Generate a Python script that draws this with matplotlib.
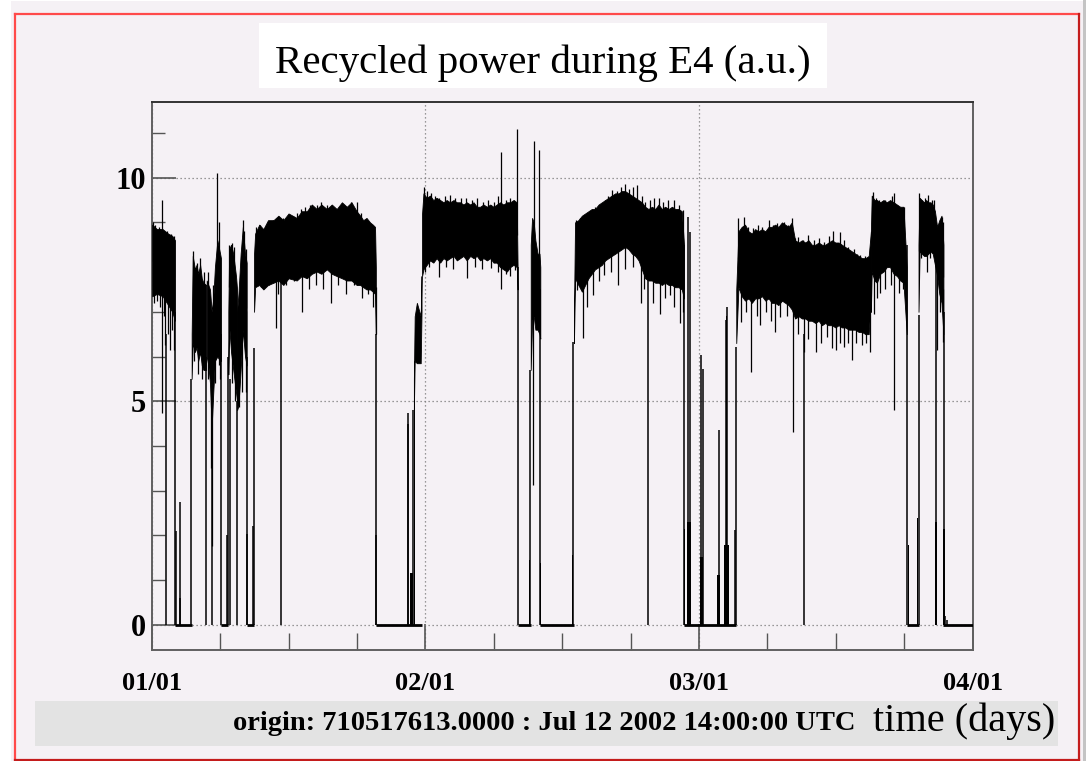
import numpy as np
import matplotlib
matplotlib.use("Agg")
import matplotlib.pyplot as plt
from matplotlib.patches import Rectangle
from matplotlib.lines import Line2D
from matplotlib.ticker import MultipleLocator, FixedLocator

# ---------------------------------------------------------------------------
# Recycled power time series (a.u.), time axis in units of the tick spacing
# ---------------------------------------------------------------------------
tick_pos = [0, 1, 2, 3]
tick_labels = ["01/01", "02/01", "03/01", "04/01"]
y_major = [0, 5, 10]

# Dense, locked stretches: lower/upper envelope of the fast fluctuations
band1_x = [0.002, 0.019, 0.040, 0.060, 0.075, 0.085]
band1_lo = [7.35, 7.40, 7.35, 7.15, 7.00, 6.80]
band1_hi = [8.95, 8.85, 8.85, 8.75, 8.70, 8.60]

band2_x = [0.146, 0.150, 0.158, 0.164, 0.170, 0.177, 0.183, 0.189, 0.199]
band2_lo = [5.5, 6.3, 6.1, 6.2, 5.9, 6.1, 5.8, 5.7, 5.7]
band2_hi = [6.5, 8.25, 7.95, 8.05, 7.85, 8.05, 7.75, 7.65, 7.6]

band3_x = [0.201, 0.207, 0.213, 0.219, 0.225, 0.231, 0.240, 0.250, 0.253]
band3_lo = [6.0, 5.8, 5.4, 4.4, 5.2, 5.9, 6.0, 5.9, 5.9]
band3_hi = [7.7, 7.6, 7.5, 7.0, 7.3, 8.0, 8.6, 8.3, 8.2]

band4_x = [0.280, 0.283, 0.290, 0.298, 0.308, 0.312]
band4_lo = [5.6, 6.7, 6.1, 5.7, 5.2, 5.0]
band4_hi = [7.0, 8.4, 8.5, 8.3, 7.8, 7.5]

band5_x = [0.312, 0.317, 0.325, 0.333, 0.341, 0.347]
band5_lo = [4.8, 4.9, 5.7, 6.6, 6.0, 5.8]
band5_hi = [7.0, 7.4, 8.3, 8.9, 8.3, 8.1]

band6_x = [0.374, 0.378, 0.393, 0.408, 0.425, 0.445, 0.463, 0.481, 0.500, 0.530,
           0.548, 0.567, 0.585, 0.603, 0.620, 0.640, 0.658, 0.676, 0.695, 0.713,
           0.730, 0.749, 0.762, 0.773, 0.785, 0.798, 0.808, 0.816, 0.819]
band6_lo = [7.0, 7.55, 7.6, 7.5, 7.6, 7.65, 7.7, 7.6, 7.75, 7.7,
            7.8, 7.75, 7.85, 7.9, 7.85, 7.95, 7.85, 7.8, 7.75, 7.7,
            7.7, 7.6, 7.6, 7.55, 7.5, 7.5, 7.45, 7.4, 6.5]
band6_hi = [8.3, 8.75, 8.95, 8.85, 9.05, 9.05, 9.15, 9.05, 9.2, 9.1,
            9.25, 9.25, 9.4, 9.3, 9.4, 9.3, 9.4, 9.3, 9.45, 9.35,
            9.45, 9.25, 9.15, 9.05, 9.1, 9.0, 8.95, 8.9, 8.0]

band7_x = [0.958, 0.961, 0.969, 0.983, 0.986]
band7_lo = [4.8, 5.9, 5.85, 5.85, 7.0]
band7_hi = [5.5, 6.9, 7.2, 6.9, 7.8]

band8_x = [0.988, 0.993, 1.005, 1.017, 1.029, 1.041, 1.054, 1.066, 1.078, 1.090,
           1.103, 1.115, 1.127, 1.139, 1.151, 1.164, 1.176, 1.188, 1.200, 1.212,
           1.225, 1.237, 1.249, 1.261, 1.273, 1.285, 1.298, 1.310, 1.322, 1.334, 1.337]
band8_lo = [7.8, 7.95, 8.05, 8.15, 8.1, 8.2, 8.1, 8.2, 8.15, 8.2,
            8.25, 8.15, 8.2, 8.25, 8.15, 8.25, 8.2, 8.25, 8.15, 8.2,
            8.15, 8.2, 8.1, 8.1, 8.0, 7.95, 7.9, 8.0, 8.05, 8.0, 7.5]
band8_hi = [9.2, 9.65, 9.55, 9.6, 9.5, 9.55, 9.5, 9.45, 9.5, 9.45,
            9.5, 9.45, 9.45, 9.4, 9.45, 9.4, 9.45, 9.35, 9.35, 9.4,
            9.35, 9.4, 9.35, 9.4, 9.45, 9.4, 9.45, 9.45, 9.5, 9.45, 8.0]

band9_x = [1.385, 1.390, 1.396, 1.402, 1.410, 1.417, 1.420]
band9_lo = [5.7, 6.8, 6.9, 6.6, 6.6, 6.5, 6.4]
band9_hi = [8.5, 9.1, 9.0, 8.6, 8.3, 8.3, 8.0]

band10_x = [1.543, 1.547, 1.559, 1.572, 1.584, 1.596, 1.608, 1.620, 1.633, 1.645,
            1.657, 1.669, 1.681, 1.694, 1.706, 1.718, 1.730, 1.742, 1.755, 1.767,
            1.779, 1.791, 1.803, 1.815, 1.828, 1.840, 1.852, 1.864, 1.876, 1.889,
            1.901, 1.913, 1.925, 1.937, 1.945]
band10_lo = [6.3, 7.75, 7.6, 7.45, 7.6, 7.75, 7.85, 7.95, 8.0, 8.05,
             8.15, 8.2, 8.25, 8.3, 8.35, 8.4, 8.45, 8.4, 8.3, 8.25,
             8.15, 7.95, 7.75, 7.7, 7.7, 7.65, 7.65, 7.6, 7.65, 7.6,
             7.6, 7.55, 7.55, 7.5, 7.3]
band10_hi = [7.0, 9.0, 9.05, 9.15, 9.2, 9.25, 9.3, 9.3, 9.4, 9.45,
             9.5, 9.55, 9.6, 9.65, 9.65, 9.7, 9.7, 9.65, 9.6, 9.55,
             9.5, 9.45, 9.35, 9.3, 9.35, 9.3, 9.4, 9.3, 9.35, 9.3,
             9.35, 9.3, 9.3, 9.25, 8.5]

band11_x = [2.136, 2.144, 2.156, 2.168, 2.181, 2.193, 2.205, 2.217, 2.230, 2.242,
            2.254, 2.266, 2.278, 2.290, 2.303, 2.315, 2.327, 2.339, 2.351, 2.364,
            2.376, 2.388, 2.400, 2.412, 2.425, 2.437, 2.449, 2.461, 2.473, 2.486,
            2.498, 2.510, 2.522, 2.534, 2.547, 2.559, 2.571, 2.583, 2.595, 2.608,
            2.620, 2.628]
band11_lo = [6.3, 7.55, 7.35, 7.25, 7.3, 7.2, 7.3, 7.3, 7.35, 7.25,
             7.3, 7.2, 7.2, 7.15, 7.25, 7.2, 7.15, 7.05, 6.85, 6.9,
             6.85, 6.85, 6.8, 6.8, 6.75, 6.8, 6.7, 6.75, 6.7, 6.7,
             6.65, 6.7, 6.65, 6.65, 6.6, 6.6, 6.6, 6.55, 6.55, 6.5,
             6.5, 7.3]
band11_hi = [7.5, 8.8, 8.9, 8.95, 8.8, 8.75, 8.85, 8.8, 8.85, 8.8,
             8.9, 8.9, 8.95, 8.9, 9.0, 8.95, 8.9, 9.0, 8.6, 8.55,
             8.6, 8.55, 8.6, 8.5, 8.5, 8.55, 8.5, 8.5, 8.55, 8.6,
             8.55, 8.55, 8.5, 8.45, 8.4, 8.35, 8.3, 8.25, 8.2, 8.2,
             8.25, 8.8]

band12_x = [2.628, 2.631, 2.641, 2.650, 2.662, 2.674, 2.686, 2.698, 2.711, 2.723,
            2.735, 2.747, 2.759]
band12_lo = [7.0, 7.9, 7.7, 7.65, 7.85, 7.9, 8.0, 8.0, 7.85, 7.8, 7.7, 7.65, 6.5]
band12_hi = [8.8, 9.6, 9.5, 9.5, 9.45, 9.5, 9.45, 9.5, 9.45, 9.4, 9.35, 9.35, 8.0]

band13_x = [2.802, 2.806, 2.814, 2.822, 2.830, 2.838, 2.846, 2.854, 2.862, 2.870,
            2.878, 2.886, 2.893]
band13_lo = [7.0, 8.35, 8.3, 8.25, 8.25, 8.3, 8.35, 8.3, 8.05, 7.8, 7.4, 7.2, 6.5]
band13_hi = [8.5, 9.55, 9.5, 9.45, 9.5, 9.45, 9.45, 9.4, 9.25, 8.9, 9.05, 9.15, 8.5]

# Upward excursions above the dense band (position, peak value)
tip_up_x = [0.005, 0.012, 0.025, 0.032, 0.039, 0.055, 0.070, 0.080,
            0.150, 0.165, 0.175, 0.190, 0.205, 0.225, 0.238, 0.245,
            0.283, 0.292, 0.300, 0.335, 0.338, 0.343,
            0.380, 0.395, 0.408, 0.425, 0.445, 0.465, 0.481, 0.500, 0.515, 0.530,
            0.545, 0.560, 0.580, 0.603, 0.620, 0.640, 0.660, 0.676, 0.695, 0.713,
            0.730, 0.749, 0.765, 0.785, 0.800, 0.814,
            0.995, 1.005, 1.020, 1.035, 1.050, 1.070, 1.090, 1.110, 1.130, 1.150,
            1.170, 1.190, 1.210, 1.230, 1.250, 1.266, 1.277, 1.295, 1.310, 1.325, 1.334,
            1.396, 1.417,
            1.551, 1.565, 1.580, 1.590, 1.605, 1.620, 1.639, 1.655, 1.669, 1.681,
            1.700, 1.715, 1.731, 1.745, 1.760, 1.775, 1.790, 1.803, 1.820, 1.835,
            1.852, 1.870, 1.885, 1.907, 1.925, 1.941,
            2.144, 2.156, 2.165, 2.180, 2.199, 2.215, 2.230, 2.254, 2.270, 2.284,
            2.300, 2.309, 2.325, 2.339, 2.351, 2.363, 2.380, 2.400, 2.420, 2.440,
            2.455, 2.475, 2.491, 2.516, 2.530, 2.546, 2.565, 2.577, 2.589, 2.605, 2.619,
            2.635, 2.645, 2.656, 2.668, 2.680, 2.692, 2.705, 2.711, 2.723, 2.735, 2.750,
            2.804, 2.815, 2.826, 2.838, 2.850, 2.857, 2.875, 2.887, 2.890]
tip_up_y = [9.0, 8.95, 8.9, 8.85, 9.5, 8.8, 8.75, 8.7,
            8.35, 8.1, 8.2, 7.9, 7.9, 7.6, 10.1, 9.0,
            8.5, 8.55, 8.45, 9.05, 8.8, 8.4,
            8.9, 8.95, 8.85, 9.0, 9.05, 9.1, 9.1, 9.12, 9.15, 9.2,
            9.3, 9.35, 9.4, 9.4, 9.45, 9.4, 9.3, 9.3, 9.35, 9.3,
            9.45, 9.45, 9.2, 9.0, 8.95, 8.85,
            9.8, 9.7, 9.65, 9.6, 9.55, 9.6, 9.62, 9.55, 9.55, 9.55,
            9.5, 9.55, 9.45, 9.5, 9.45, 9.6, 10.57, 9.5, 9.55, 9.5, 11.1,
            10.82, 10.62,
            9.05, 9.1, 9.15, 9.16, 9.25, 9.35, 9.39, 9.5, 9.6, 9.72,
            9.7, 9.8, 9.87, 9.75, 9.8, 9.84, 9.6, 9.46, 9.5, 9.55,
            9.54, 9.45, 9.5, 9.5, 9.4, 9.28,
            9.09, 8.9, 9.13, 8.9, 8.87, 8.95, 8.9, 9.05, 8.95, 8.98,
            8.95, 9.02, 8.95, 9.09, 8.65, 8.68, 8.6, 8.72, 8.6, 8.65,
            8.57, 8.7, 8.8, 8.79, 8.6, 8.46, 8.4, 8.3, 8.27, 8.25, 8.16,
            9.69, 9.55, 9.5, 9.45, 9.5, 9.45, 9.6, 9.65, 9.4, 9.31, 9.35,
            9.65, 9.5, 9.55, 9.61, 9.5, 9.5, 8.95, 9.13, 9.0]

# Downward excursions below the dense band (position, lowest value)
tip_dn_x = [0.010, 0.020, 0.030, 0.039, 0.045, 0.049, 0.060, 0.067, 0.075, 0.083,
            0.155, 0.168, 0.185, 0.205, 0.215, 0.219, 0.230, 0.245, 0.251,
            0.295, 0.305, 0.318, 0.330, 0.345,
            0.385, 0.400, 0.430, 0.453, 0.462, 0.490, 0.520, 0.551, 0.575, 0.600,
            0.625, 0.655, 0.680, 0.710, 0.740, 0.770, 0.790, 0.810, 0.818,
            0.998, 1.015, 1.048, 1.075, 1.100, 1.151, 1.180, 1.206, 1.240, 1.265,
            1.277, 1.295, 1.310, 1.328, 1.394,
            1.553, 1.575, 1.590, 1.614, 1.635, 1.651, 1.680, 1.703, 1.730, 1.760,
            1.787, 1.800, 1.830, 1.858, 1.875, 1.894, 1.910, 1.931, 1.940,
            2.153, 2.170, 2.189, 2.210, 2.223, 2.245, 2.262, 2.276, 2.297, 2.320,
            2.345, 2.360, 2.382, 2.400, 2.427, 2.445, 2.467, 2.485, 2.500, 2.515,
            2.528, 2.545, 2.560, 2.575, 2.595, 2.610, 2.625,
            2.638, 2.650, 2.662, 2.680, 2.700, 2.711, 2.729, 2.745, 2.754,
            2.812, 2.832, 2.845, 2.869, 2.880, 2.893]
tip_dn_y = [7.2, 7.25, 7.1, 4.73, 6.9, 6.26, 6.5, 6.14, 6.6, 6.14,
            5.9, 5.6, 5.5, 5.5, 3.5, 1.75, 5.4, 5.8, 5.5,
            5.4, 5.0, 4.87, 5.2, 5.2,
            7.6, 7.55, 7.6, 6.63, 7.4, 7.6, 7.7, 7.0, 7.5, 7.6,
            7.5, 7.2, 7.6, 7.4, 7.6, 7.3, 7.4, 7.1, 6.5,
            7.9, 8.0, 7.78, 8.0, 7.95, 7.75, 8.0, 7.95, 7.98, 7.9,
            7.52, 7.85, 7.8, 7.93, 3.12,
            7.49, 6.41, 7.1, 7.38, 7.7, 7.82, 7.9, 7.6, 7.95, 8.0,
            7.19, 7.5, 7.2, 6.96, 7.3, 7.38, 7.1, 6.74, 7.0,
            6.78, 7.0, 5.66, 6.9, 6.7, 7.0, 6.8, 6.55, 6.89, 6.9,
            4.32, 6.5, 6.11, 6.4, 6.11, 6.3, 6.44, 6.2, 6.14, 6.3,
            6.22, 6.3, 5.92, 6.3, 6.26, 6.3, 6.11,
            6.96, 7.3, 7.41, 7.5, 7.6, 4.8, 7.41, 7.5, 7.64,
            8.2, 7.9, 8.2, 6.14, 7.0, 6.33]

# Single samples reaching from zero (drop-outs, relock attempts)
line_x = [0.051, 0.085, 0.0876, 0.104, 0.105, 0.143, 0.199, 0.219, 0.253, 0.276,
          0.280, 0.286, 0.312, 0.347, 0.350, 0.371, 0.374, 0.471, 0.819, 0.821,
          0.936, 0.938, 0.956, 1.337, 1.383, 1.419, 1.541, 1.815, 1.945, 1.961,
          1.967, 2.008, 2.014, 2.074, 2.098, 2.103, 2.132, 2.136, 2.382, 2.760,
          2.802, 2.865, 2.895, 2.899, 2.905]
line_hi = [6.5, 7.0, 2.1, 0.6, 2.75, 5.5, 6.0, 6.0, 6.5, 2.0,
           6.0, 5.5, 5.0, 6.0, 2.04, 2.2, 6.2, 8.0, 6.5, 2.0,
           4.73, 4.5, 4.8, 8.0, 5.7, 7.5, 6.33, 7.9, 8.5, 9.13,
           8.79, 6.03, 5.73, 4.35, 6.82, 7.11, 2.12, 6.22, 6.5, 8.5,
           6.93, 8.5, 7.0, 0.2, 0.1]

# Short bursts of samples close to zero: start, end, height
burst_x0 = [0.944, 0.957, 1.337, 1.378, 1.419, 1.537, 1.945, 1.955, 2.004, 2.067,
            2.093, 2.097, 2.762, 2.796, 2.863, 2.893]
burst_x1 = [0.954, 0.961, 1.340, 1.383, 1.423, 1.541, 1.949, 1.970, 2.016, 2.077,
            2.108, 2.104, 2.769, 2.801, 2.869, 2.897]
burst_top = [1.15, 5.47, 2.3, 1.45, 1.37, 1.56, 2.15, 2.3, 1.52, 1.11,
             1.78, 6.9, 1.78, 2.38, 2.3, 2.15]

# Stretches where the power sits at zero
zero_x0 = [0.085, 0.253, 0.347, 0.819, 1.337, 1.419, 1.945, 2.759, 2.893]
zero_x1 = [0.146, 0.280, 0.374, 0.988, 1.385, 1.543, 2.136, 2.802, 3.000]

# ---------------------------------------------------------------------------
W, H = 1086, 761
PINK = "#f5f1f5"
SERIF = ["Liberation Serif", "DejaVu Serif"]

fig = plt.figure(figsize=(W / 100, H / 100), dpi=100)
fig.patch.set_facecolor("white")


def px_rect(x0, y0, x1, y1, z=-10, **kw):
    fig.add_artist(Rectangle((x0 / W, 1 - y1 / H), (x1 - x0) / W, (y1 - y0) / H,
                             transform=fig.transFigure, zorder=z, **kw))


def px_line(xs, ys, **kw):
    fig.add_artist(Line2D([x / W for x in xs], [1 - y / H for y in ys],
                          transform=fig.transFigure, zorder=-5, **kw))


# canvas and pad border
px_rect(11, 1, 1083, 761, fc=PINK, lw=0)
px_rect(1083, 0, 1086, 761, fc="#c4c4c4", lw=0)
px_line([14.5, 14.5], [13.5, 760], color="#ff4a4a", lw=1.6)
px_line([14.5, 1079], [13.5, 13.5], color="#ff4a4a", lw=1.6)
px_line([1079, 1079], [13.5, 760], color="#c41c1c", lw=1.6)
px_line([14.5, 1079], [759.5, 759.5], color="#c41c1c", lw=1.6)

# title box
px_rect(259, 23, 827, 88, z=-4, fc="white", lw=0)
fig.text(543 / W, 1 - 58.5 / H, "Recycled power during E4 (a.u.)", ha="center",
         va="center_baseline", family=SERIF, fontsize=29.5)

# time-offset band
px_rect(35, 701, 1058, 746, z=-4, fc="#e3e3e3", lw=0)
fig.text(233 / W, 1 - 724 / H, "origin: 710517613.0000 : Jul 12 2002 14:00:00 UTC",
         ha="left", va="center", family=SERIF, fontsize=20.5, fontweight="bold")
fig.text(1055 / W, 1 - 721 / H, "time (days)", ha="right", va="center",
         family=SERIF, fontsize=29)

# plot frame
ax_l, ax_r, ax_t, ax_b = 151.7, 972.7, 102.3, 650
ax = fig.add_axes([ax_l / W, 1 - ax_b / H, (ax_r - ax_l) / W, (ax_b - ax_t) / H])
ax.set_facecolor(PINK)
y_per_px = 1 / 44.7
ax.set_xlim(0, 3)
ax.set_ylim(-(ax_b - 624.7) * y_per_px, (624.7 - ax_t) * y_per_px)

bands = [(band1_x, band1_lo, band1_hi), (band2_x, band2_lo, band2_hi),
         (band3_x, band3_lo, band3_hi), (band4_x, band4_lo, band4_hi),
         (band5_x, band5_lo, band5_hi), (band6_x, band6_lo, band6_hi),
         (band7_x, band7_lo, band7_hi), (band8_x, band8_lo, band8_hi),
         (band9_x, band9_lo, band9_hi), (band10_x, band10_lo, band10_hi),
         (band11_x, band11_lo, band11_hi), (band12_x, band12_lo, band12_hi),
         (band13_x, band13_lo, band13_hi)]

for bx, blo, bhi in bands:
    ax.fill_between(bx, blo, bhi, color="black", lw=0.6, zorder=3)

all_x = np.concatenate([b[0] for b in bands])
all_lo = np.concatenate([b[1] for b in bands])
all_hi = np.concatenate([b[2] for b in bands])
mid = 0.5 * (all_lo + all_hi)

ax.vlines(tip_up_x, np.interp(tip_up_x, all_x, mid), tip_up_y, color="black",
          lw=0.9, zorder=3)
ax.vlines(tip_dn_x, tip_dn_y, np.interp(tip_dn_x, all_x, mid), color="black",
          lw=0.9, zorder=3)
ax.vlines(line_x, np.zeros(len(line_x)), line_hi, color="black", lw=1.1, zorder=3)
ax.bar(burst_x0, burst_top, width=np.subtract(burst_x1, burst_x0), align="edge",
       color="black", lw=0, zorder=3)
ax.hlines(np.zeros(len(zero_x0)), zero_x0, zero_x1, color="black", lw=2.0, zorder=3)

# grid, ticks, labels
ax.xaxis.set_major_locator(FixedLocator(tick_pos))
ax.xaxis.set_minor_locator(MultipleLocator(0.25))
ax.yaxis.set_major_locator(FixedLocator(y_major))
ax.yaxis.set_minor_locator(MultipleLocator(1))
ax.set_xticklabels(tick_labels)
ax.grid(True, which="major", color="#7a7a7a", ls=(0, (1, 2.2)), lw=0.9)
ax.set_axisbelow(True)
ax.tick_params(axis="both", which="both", direction="in", colors="#555555",
               top=False, right=False)
ax.tick_params(axis="y", which="major", length=17, width=1.2, pad=4)
ax.tick_params(axis="y", which="minor", length=9, width=1.0)
ax.tick_params(axis="x", which="major", length=19, width=1.2, pad=16)
ax.tick_params(axis="x", which="minor", length=12, width=1.0)
for lab in ax.get_yticklabels():
    lab.set_fontsize(22)
for lab in ax.get_xticklabels():
    lab.set_fontsize(19)
for lab in ax.get_xticklabels() + ax.get_yticklabels():
    lab.set_family(SERIF)
    lab.set_fontweight("bold")
    lab.set_color("black")
for sp in ax.spines.values():
    sp.set_color("#606060")
    sp.set_linewidth(1.4)
ax.spines["top"].set_color("#333333")

fig.savefig("out.png", dpi=100, facecolor=fig.get_facecolor())
